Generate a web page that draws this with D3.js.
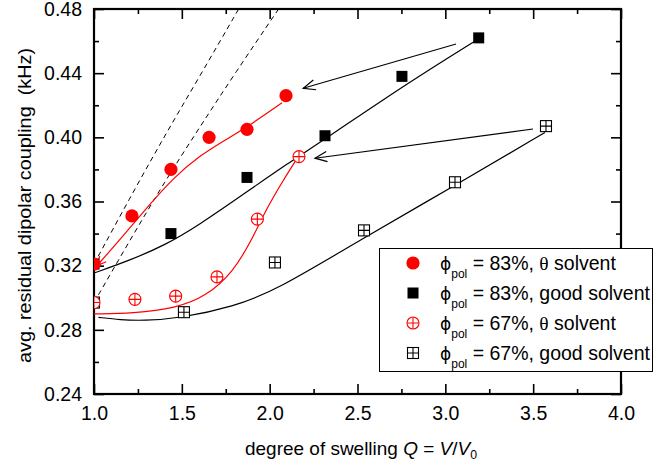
<!DOCTYPE html>
<html>
<head>
<meta charset="utf-8">
<script src="https://cdn.jsdelivr.net/npm/d3@7"></script>
<style>
  body { margin: 0; background: #fff; }
  text { font-family: "Liberation Sans", Arial, sans-serif; fill: #000; }
</style>
</head>
<body>
<div id="chart"></div>
<script>
// measured points: swelling degree Q and avg. residual dipolar coupling (kHz)
const q83theta = [1.0, 1.216, 1.438, 1.655, 1.871, 2.093];
const v83theta = [0.321, 0.351, 0.380, 0.400, 0.405, 0.426];
const q83good = [1.0, 1.438, 1.871, 2.315, 2.753, 3.19];
const v83good = [0.321, 0.340, 0.375, 0.401, 0.438, 0.462];
const q67theta = [1.0, 1.233, 1.465, 1.70, 1.93, 2.167];
const v67theta = [0.297, 0.299, 0.301, 0.313, 0.349, 0.388];
const q67good = [1.0, 1.512, 2.03, 2.537, 3.055, 3.573];
const v67good = [0.297, 0.291, 0.322, 0.342, 0.372, 0.407];

// guide curves, [Q, value]
const fit83theta = [[1.017, 0.320], [1.15, 0.3365], [1.3, 0.356], [1.45, 0.3745], [1.6, 0.3885], [1.75, 0.3985], [1.9, 0.4085], [2.07, 0.4215]];
const fit83good = [[1.0, 0.3154], [1.2, 0.3232], [1.4, 0.3325], [1.6, 0.3455], [1.85, 0.3645], [2.1, 0.3835], [2.35, 0.4015], [2.78, 0.4335], [3.19, 0.4615]];
const fit67theta = [[1.0, 0.2899], [1.222, 0.2903], [1.465, 0.2934], [1.641, 0.301], [1.793, 0.3162], [1.898, 0.336], [1.983, 0.3558], [2.078, 0.3734], [2.16, 0.3875]];
const fit67good = [[1.025, 0.2878], [1.15, 0.2862], [1.281, 0.2857], [1.49, 0.2872], [1.793, 0.2944], [2.04, 0.3048], [2.514, 0.336], [3.055, 0.370], [3.567, 0.403]];
const dashA = [[1.0, 0.321], [1.2, 0.3614], [1.4, 0.4006], [1.6, 0.4377], [1.83, 0.4812]];
const dashB = [[1.0, 0.297], [1.2, 0.335], [1.4, 0.372], [1.6, 0.406], [1.8, 0.4395], [2.06, 0.4815]];

// annotation arrows [fromQ, fromV, toQ, toV]
const arrows = [[3.061, 0.4582, 2.191, 0.4306], [3.499, 0.4052, 2.258, 0.387]];

const xTicks = [1.0, 1.5, 2.0, 2.5, 3.0, 3.5, 4.0];
const xMinor = [1.25, 1.75, 2.25, 2.75, 3.25, 3.75];
const yTicks = [0.24, 0.28, 0.32, 0.36, 0.40, 0.44, 0.48];
const yMinor = [0.26, 0.30, 0.34, 0.38, 0.42, 0.46];

const legendRows = [
  { pct: "83%", solvent: "theta", kind: "dot" },
  { pct: "83%", solvent: "good", kind: "square" },
  { pct: "67%", solvent: "theta", kind: "ocircle" },
  { pct: "67%", solvent: "good", kind: "osquare" }
];

const width = 668, height = 465;
const svg = d3.select("#chart").append("svg")
  .attr("width", width)
  .attr("height", height);

const x = d3.scaleLinear().domain([1, 4]).range([94, 621]);
const y = d3.scaleLinear().domain([0.24, 0.48]).range([394, 9]);

svg.append("clipPath").attr("id", "plot")
  .append("rect")
  .attr("x", 94).attr("y", 9)
  .attr("width", 527).attr("height", 385);

// axes, ticks pointing inward on all sides
function axis(gen, vals, size, tr, fmt) {
  const g = svg.append("g").attr("transform", tr)
    .call(gen.tickValues(vals).tickSize(-size).tickPadding(12)
      .tickFormat(fmt ? d3.format(fmt) : ""));
  g.select(".domain").remove();
  g.selectAll("line").attr("stroke", "#000").attr("stroke-width", 1.6);
  g.attr("font-family", null).attr("font-size", 19.5);
  return g;
}
axis(d3.axisBottom(x), xTicks, 10, "translate(0,394)", ".1f");
axis(d3.axisBottom(x), xMinor, 5, "translate(0,394)", null);
axis(d3.axisTop(x), xTicks, 10, "translate(0,9)", null);
axis(d3.axisTop(x), xMinor, 5, "translate(0,9)", null);
axis(d3.axisLeft(y), yTicks, 10, "translate(94,0)", ".2f");
axis(d3.axisLeft(y), yMinor, 5, "translate(94,0)", null);
axis(d3.axisRight(y), yTicks, 10, "translate(621,0)", null);
axis(d3.axisRight(y), yMinor, 5, "translate(621,0)", null);

svg.append("rect")
  .attr("x", 94).attr("y", 9)
  .attr("width", 527).attr("height", 385)
  .attr("fill", "none")
  .attr("stroke", "#000")
  .attr("stroke-width", 2.2);

const plot = svg.append("g").attr("clip-path", "url(#plot)");

const line = d3.line()
  .x(d => x(d[0]))
  .y(d => y(d[1]))
  .curve(d3.curveBasis);

plot.append("path").attr("d", line(dashA))
  .attr("fill", "none").attr("stroke", "#000").attr("stroke-width", 1).attr("stroke-dasharray", "5,4");
plot.append("path").attr("d", line(dashB))
  .attr("fill", "none").attr("stroke", "#000").attr("stroke-width", 1).attr("stroke-dasharray", "5,4");

[[fit83good, "#000"], [fit67good, "#000"], [fit83theta, "#f00"], [fit67theta, "#f00"]].forEach(([pts, c]) => {
  plot.append("path").attr("d", line(pts))
    .attr("fill", "none").attr("stroke", c).attr("stroke-width", 1.2);
});

function arrowHead(g, x0, y0, x1, y1, len, ang, color) {
  const a = Math.atan2(y0 - y1, x0 - x1);
  const p1 = [x1 + len * Math.cos(a + ang), y1 + len * Math.sin(a + ang)];
  const p2 = [x1 + len * Math.cos(a - ang), y1 + len * Math.sin(a - ang)];
  g.append("path")
    .attr("d", `M${p1[0]},${p1[1]}L${x1},${y1}L${p2[0]},${p2[1]}`)
    .attr("fill", "none").attr("stroke", color).attr("stroke-width", 1.2);
}

// red arrowhead at the low end of the 83% theta curve
arrowHead(plot, x(fit83theta[1][0]), y(fit83theta[1][1]), x(fit83theta[0][0]), y(fit83theta[0][1]), 10, 0.45, "#f00");

arrows.forEach(a => {
  svg.append("line")
    .attr("x1", x(a[0])).attr("y1", y(a[1]))
    .attr("x2", x(a[2])).attr("y2", y(a[3]))
    .attr("stroke", "#000").attr("stroke-width", 1.1);
  arrowHead(svg, x(a[0]), y(a[1]), x(a[2]), y(a[3]), 13, 0.4, "#000");
});

// marker drawing
function marker(g, kind, cx, cy) {
  if (kind === "dot") {
    g.append("circle").attr("cx", cx).attr("cy", cy).attr("r", 6.6).attr("fill", "#f00");
  } else if (kind === "square") {
    g.append("rect").attr("x", cx - 5.5).attr("y", cy - 5.5).attr("width", 11).attr("height", 11).attr("fill", "#000");
  } else if (kind === "ocircle") {
    g.append("circle").attr("cx", cx).attr("cy", cy).attr("r", 6)
      .attr("fill", "#fff").attr("stroke", "#f00").attr("stroke-width", 1.1);
    g.append("path").attr("d", `M${cx - 6},${cy}H${cx + 6}M${cx},${cy - 6}V${cy + 6}`)
      .attr("stroke", "#f00").attr("stroke-width", 1.1);
  } else {
    g.append("rect").attr("x", cx - 5.5).attr("y", cy - 5.5).attr("width", 11).attr("height", 11)
      .attr("fill", "#fff").attr("stroke", "#000").attr("stroke-width", 1.1);
    g.append("path").attr("d", `M${cx - 5.5},${cy}H${cx + 5.5}M${cx},${cy - 5.5}V${cy + 5.5}`)
      .attr("stroke", "#000").attr("stroke-width", 1.1);
  }
}

const series = [
  [q67good, v67good, "osquare"],
  [q67theta, v67theta, "ocircle"],
  [q83good, v83good, "square"],
  [q83theta, v83theta, "dot"]
];
series.forEach(([qs, vs, kind]) => {
  qs.forEach((q, i) => marker(plot, kind, x(q), y(vs[i])));
});

// axis titles
svg.append("text")
  .attr("transform", "translate(31,205.5) rotate(-90)")
  .attr("text-anchor", "middle")
  .attr("font-size", 18.5)
  .attr("textLength", 315)
  .attr("lengthAdjust", "spacingAndGlyphs")
  .style("white-space", "pre")
  .text("avg. residual dipolar coupling  (kHz)");

const xt = svg.append("text")
  .attr("x", 245).attr("y", 455)
  .attr("font-size", 18.5)
  .attr("textLength", 232)
  .attr("lengthAdjust", "spacingAndGlyphs");
xt.append("tspan").text("degree of swelling ");
xt.append("tspan").attr("font-style", "italic").text("Q");
xt.append("tspan").text(" = ");
xt.append("tspan").attr("font-style", "italic").text("V");
xt.append("tspan").text("/");
xt.append("tspan").attr("font-style", "italic").text("V");
xt.append("tspan").attr("font-size", 12).attr("dy", 4).text("0");

// legend
const lg = svg.append("g");
lg.append("rect")
  .attr("x", 379.5).attr("y", 248.5)
  .attr("width", 273).attr("height", 123)
  .attr("fill", "#fff").attr("stroke", "#000").attr("stroke-width", 1);

legendRows.forEach((r, i) => {
  const cy = 263 + i * 30;
  marker(lg, r.kind, 413, cy);
  const t = lg.append("text").attr("x", 440).attr("y", cy + 7).attr("font-size", 19.5);
  t.append("tspan").attr("font-family", "'DejaVu Sans', sans-serif").attr("font-size", 17).text("\u03d5");
  t.append("tspan").attr("font-size", 12).attr("dy", 8).text("pol");
  t.append("tspan").attr("dy", -8).text(" = " + r.pct + ", ");
  if (r.solvent === "theta") {
    t.append("tspan").attr("font-family", "'Liberation Serif', serif").text("\u03b8");
    t.append("tspan").text(" solvent");
  } else {
    t.append("tspan").text("good solvent");
  }
});
</script>
</body>
</html>
